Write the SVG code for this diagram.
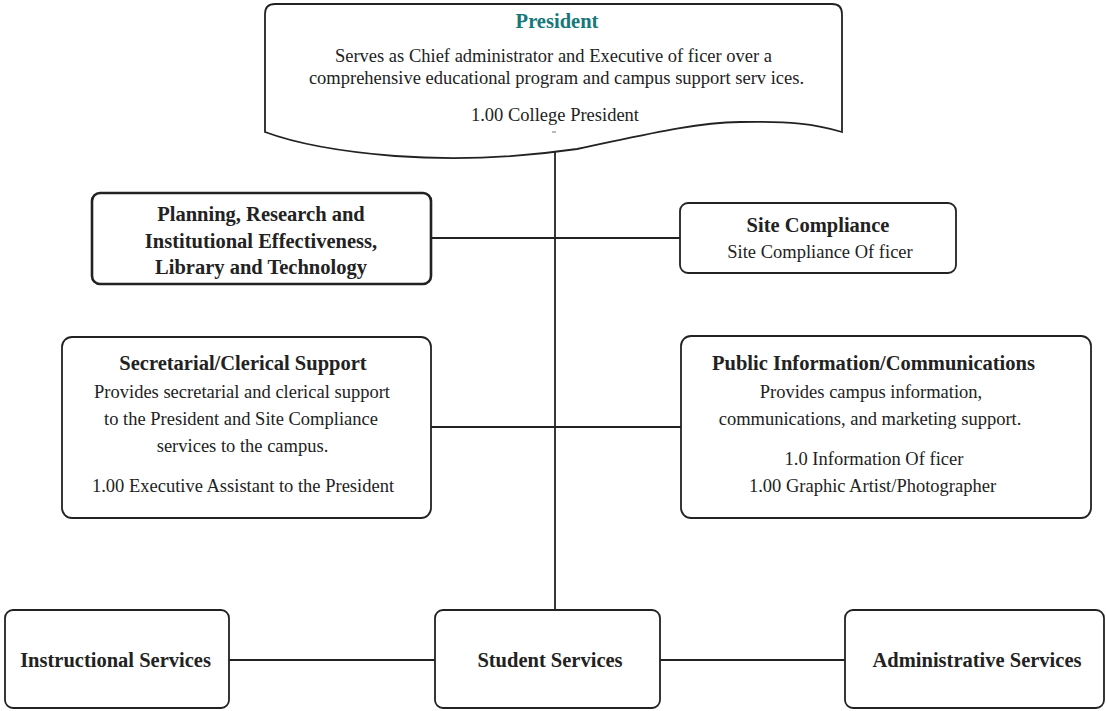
<svg xmlns="http://www.w3.org/2000/svg" width="1106" height="711" viewBox="0 0 1106 711">
<style>
.box{fill:#fff;stroke:#222;stroke-width:1.8}
.thick{stroke-width:2.6}
.ln{stroke:#222;stroke-width:1.8;fill:none}
text{font-family:"Liberation Serif","Times New Roman",serif;fill:#222;text-anchor:middle}
.b{font-weight:bold;font-size:20.5px}
.r{font-size:18.5px}
.t{font-weight:bold;font-size:20.5px;fill:#17787a}
</style>
<rect width="1106" height="711" fill="#fff"/>
<g id="connectors">
<line class="ln" x1="555" y1="150" x2="555" y2="610"/>
<line class="ln" x1="431" y1="238" x2="680" y2="238"/>
<line class="ln" x1="431" y1="427" x2="681" y2="427"/>
<line class="ln" x1="229" y1="660" x2="435" y2="660"/>
<line class="ln" x1="660" y1="660" x2="845" y2="660"/>
</g>
<g id="president">
<path class="box" d="M265,14 Q265,4 275,4 L832,4 Q842,4 842,14 L842,132 C815,124 790,121 740,122 C690,123 640,136 577,149 C515,158 450,160 395,156 C345,152 300,145 265,132 Z"/>
<text class="t" x="557" y="28">President</text>
<text class="r" x="553.5" y="62">Serves as Chief administrator and Executive of ficer over a</text>
<text class="r" x="556.5" y="84">comprehensive educational program and campus support serv ices.</text>
<text class="r" x="555" y="121">1.00 College President</text>
<line x1="552" y1="132" x2="556" y2="132" stroke="#777" stroke-width="1"/>
</g>
<g id="planning">
<rect class="box thick" x="92" y="193" width="339" height="91" rx="8"/>
<text class="b" x="261" y="221">Planning, Research and</text>
<text class="b" x="261" y="248">Institutional Effectiveness,</text>
<text class="b" x="261" y="274">Library and Technology</text>
</g>
<g id="site-compliance">
<rect class="box" x="680" y="203" width="276" height="70" rx="8"/>
<text class="b" x="818" y="232">Site Compliance</text>
<text class="r" x="820" y="258">Site Compliance Of ficer</text>
</g>
<g id="secretarial">
<rect class="box" x="62" y="337" width="369" height="181" rx="10"/>
<text class="b" x="243" y="370">Secretarial/Clerical Support</text>
<text class="r" x="242" y="398">Provides secretarial and clerical support</text>
<text class="r" x="241" y="425">to the President and Site Compliance</text>
<text class="r" x="242.5" y="452">services to the campus.</text>
<text class="r" x="243" y="492">1.00 Executive Assistant to the President</text>
</g>
<g id="public-info">
<rect class="box" x="681" y="336" width="410" height="182" rx="10"/>
<text class="b" x="873.5" y="370">Public Information/Communications</text>
<text class="r" x="871" y="398">Provides campus information,</text>
<text class="r" x="870" y="425">communications, and marketing support.</text>
<text class="r" x="874" y="465">1.0 Information Of ficer</text>
<text class="r" x="872.5" y="492">1.00 Graphic Artist/Photographer</text>
</g>
<g id="instructional">
<rect class="box" x="5" y="610" width="224" height="98" rx="8"/>
<text class="b" x="115.5" y="667">Instructional Services</text>
</g>
<g id="student">
<rect class="box" x="435" y="610" width="225" height="98" rx="8"/>
<text class="b" x="550" y="667">Student Services</text>
</g>
<g id="administrative">
<rect class="box" x="845" y="610" width="259" height="98" rx="8"/>
<text class="b" x="977" y="667">Administrative Services</text>
</g>
</svg>
